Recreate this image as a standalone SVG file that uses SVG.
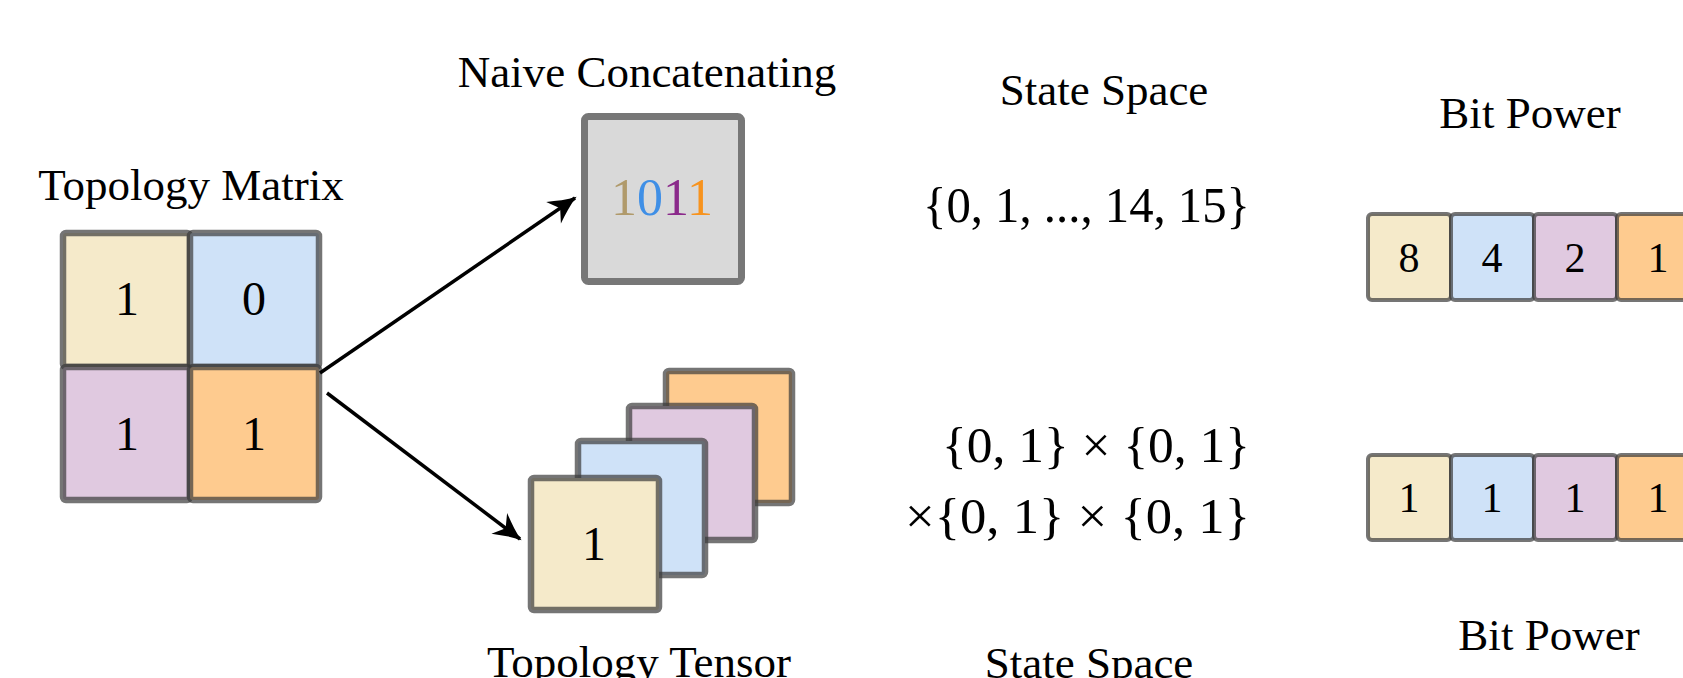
<svg xmlns="http://www.w3.org/2000/svg" width="1683" height="678" viewBox="0 0 1683 678">
<style>
  text { font-family: "Liberation Serif", "Times New Roman", serif; fill: #000; }
  .lbl { font-size: 45px; text-anchor: middle; }
  .cellnum { font-size: 48px; text-anchor: middle; }
  .bitnum { font-size: 42px; text-anchor: middle; }
  .math { font-size: 50px; text-anchor: end; }
  .cell { stroke: #3a3a3a; stroke-opacity: 0.7; stroke-width: 6.5; stroke-linejoin: round; }
  .bit { stroke: #3a3a3a; stroke-opacity: 0.7; stroke-width: 4; stroke-linejoin: round; }
  .y { fill: #f5eaca; }
  .b { fill: #cfe2f8; }
  .p { fill: #e0c9e0; }
  .o { fill: #fecb8f; }
  .conn { stroke: #000; stroke-width: 3.5; fill: none; marker-end: url(#arrow); }
</style>
<defs>
  <marker id="arrow" markerUnits="userSpaceOnUse" markerWidth="40" markerHeight="34" viewBox="-30 -17 34 34" refX="0" refY="0" orient="auto">
    <path d="M2,0 C-8,-3 -17,-8 -26,-13 L-18,0 L-26,13 C-17,8 -8,3 2,0 Z" fill="#000"/>
  </marker>
</defs>
<rect x="0" y="0" width="1683" height="678" fill="#fff"/>

<g id="topology-matrix">
  <text class="lbl" x="191" y="200" font-size="44">Topology Matrix</text>
  <rect class="cell y" x="63" y="233" width="127" height="134" rx="3"/>
  <rect class="cell b" x="190" y="233" width="129" height="134" rx="3"/>
  <rect class="cell p" x="63" y="367" width="127" height="133" rx="3"/>
  <rect class="cell o" x="190" y="367" width="129" height="133" rx="3"/>
  <text class="cellnum" x="127" y="315">1</text>
  <text class="cellnum" x="254" y="315">0</text>
  <text class="cellnum" x="127" y="450">1</text>
  <text class="cellnum" x="254" y="450">1</text>
</g>

<g id="naive-concatenating">
  <text class="lbl" x="647" y="87">Naive Concatenating</text>
  <rect x="584.5" y="116.5" width="157" height="165" rx="4" fill="#d9d9d9" stroke="#777" stroke-width="7" stroke-linejoin="round"/>
  <text x="662" y="215" font-size="52" text-anchor="middle"><tspan fill="#b09a6b">1</tspan><tspan fill="#3f8fe6">0</tspan><tspan fill="#8b2a8b">1</tspan><tspan fill="#f7931e">1</tspan></text>
</g>

<g id="topology-tensor">
  <rect class="cell o" x="666" y="371" width="126" height="132" rx="3"/>
  <rect class="cell p" x="629" y="406" width="126" height="134" rx="3"/>
  <rect class="cell b" x="578" y="441" width="127" height="134" rx="3"/>
  <rect class="cell y" x="531" y="478" width="128" height="132" rx="3"/>
  <text class="cellnum" x="594" y="560">1</text>
  <text class="lbl" x="639" y="677">Topology Tensor</text>
</g>

<g id="state-space-top">
  <text class="lbl" x="1104" y="105">State Space</text>
  <text class="math" x="1250" y="222" textLength="327" lengthAdjust="spacingAndGlyphs">{0, 1, ..., 14, 15}</text>
</g>

<g id="state-space-bottom">
  <text class="math" x="1250" y="462" textLength="308" lengthAdjust="spacingAndGlyphs">{0, 1} × {0, 1}</text>
  <text class="math" x="1250" y="533" textLength="345" lengthAdjust="spacingAndGlyphs">×{0, 1} × {0, 1}</text>
  <text class="lbl" x="1089" y="678">State Space</text>
</g>

<g id="bit-power-top">
  <text class="lbl" x="1530" y="128">Bit Power</text>
  <rect class="bit y" x="1368" y="214" width="83" height="86" rx="4"/>
  <rect class="bit b" x="1451" y="214" width="83" height="86" rx="4"/>
  <rect class="bit p" x="1534" y="214" width="83" height="86" rx="4"/>
  <rect class="bit o" x="1617" y="214" width="83" height="86" rx="4"/>
  <text class="bitnum" x="1409" y="272">8</text>
  <text class="bitnum" x="1492" y="272">4</text>
  <text class="bitnum" x="1575" y="272">2</text>
  <text class="bitnum" x="1658" y="272">1</text>
</g>

<g id="bit-power-bottom">
  <rect class="bit y" x="1368" y="455" width="83" height="85" rx="4"/>
  <rect class="bit b" x="1451" y="455" width="83" height="85" rx="4"/>
  <rect class="bit p" x="1534" y="455" width="83" height="85" rx="4"/>
  <rect class="bit o" x="1617" y="455" width="83" height="85" rx="4"/>
  <text class="bitnum" x="1409" y="512">1</text>
  <text class="bitnum" x="1492" y="512">1</text>
  <text class="bitnum" x="1575" y="512">1</text>
  <text class="bitnum" x="1658" y="512">1</text>
  <text class="lbl" x="1549" y="650">Bit Power</text>
</g>

<g id="connectors">
  <line class="conn" x1="320" y1="373" x2="575" y2="198"/>
  <line class="conn" x1="327" y1="393" x2="520" y2="539"/>
</g>
</svg>
